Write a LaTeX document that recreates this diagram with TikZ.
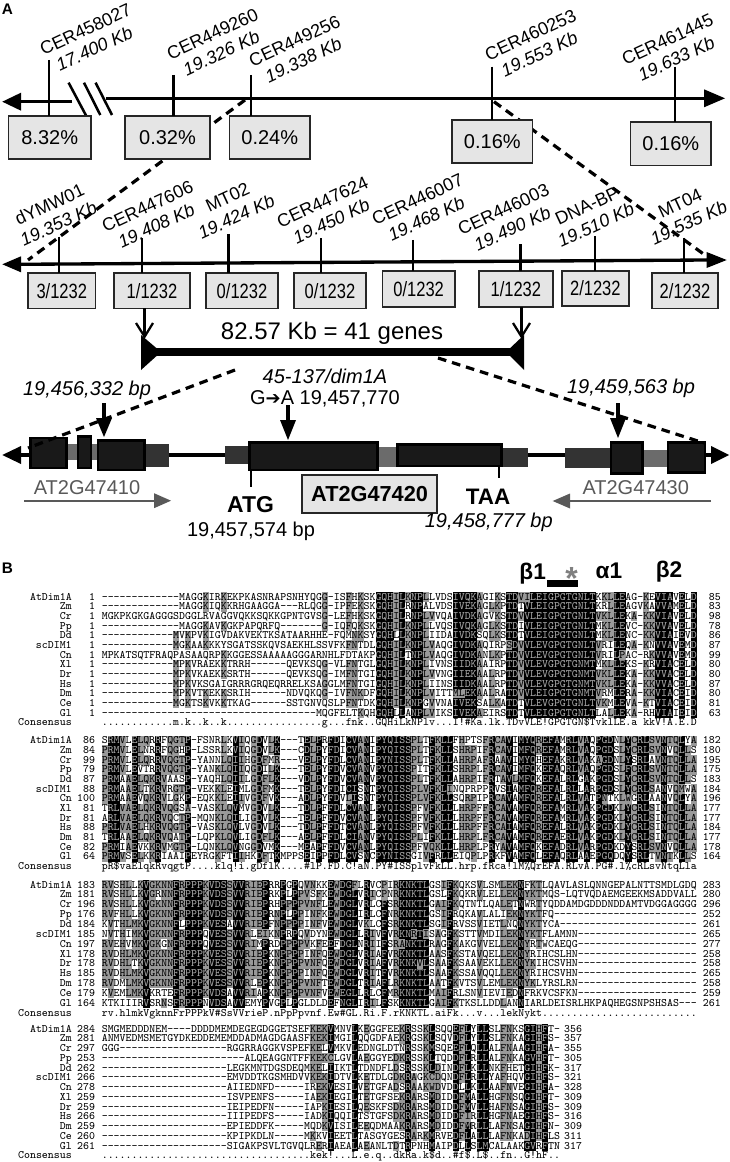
\documentclass[tikz,border=0pt]{standalone}
\usepackage{fontspec}
\usepackage{graphicx}
\setmainfont{Liberation Sans}
\newfontfamily\djv{DejaVu Sans}
\definecolor{boxfill}{gray}{0.9}
\definecolor{boxedge}{gray}{0.15}
\definecolor{utrdark}{gray}{0.2}
\definecolor{utrmid}{gray}{0.42}
\definecolor{genefill}{gray}{0.1}
\definecolor{genelab}{gray}{0.35}
\definecolor{alngray}{gray}{0.6}
\definecolor{alnwhite}{gray}{0.66}
\tikzset{
  pctbox/.style={draw=boxedge,fill=boxfill,line width=1.2pt,inner sep=0pt,outer sep=0pt},
  rotlab/.style={rotate=25,align=center,inner sep=0pt,font=\fontsize{13.5}{15.8}\selectfont},
  tickline/.style={line width=1.9pt,black},
  mainline/.style={line width=2.5pt,black},
  dashline/.style={line width=2.4pt,black,dash pattern=on 6.5pt off 4.5pt},
  vline/.style={line width=1.7pt,black},
  genebox/.style={draw=black,fill=genefill,line width=2.1pt},
  txt/.style={inner sep=0pt,outer sep=0pt},
  alnfont/.style={inner sep=0pt,outer sep=0pt,font=\fontsize{8.5}{10}\selectfont\ttfamily}
}
\newcommand\fsz[1]{\fontsize{#1}{#1}\selectfont}
\newcommand\boxat[6]{\node[pctbox,minimum width={(#4-#2)*0.75pt},minimum height={(#5-#3)*0.75pt}] (#1) at ({(#2+#4)/2},{(#3+#5)/2}) {#6};}
\newcommand\cnt[1]{\fsz{15.5}\scalebox{.8}[1]{#1}}
% ---- alignment machinery
\newcount\alnrowi \newcount\alncol \newcount\alnmode \newcount\alnblk
\newtoks\alnbuf
\def\alnpass{0}
\def\alnstop{}
\def\alnadd#1{\alnbuf=\expandafter{\the\alnbuf #1}}
\def\alnis#1#2{\if#1#2\alnmode=2 \fi}
\def\alncase#1#2{\uppercase{\def\alnup{#2}}%
  \if\alnup#2\alnmode=1 \if#1#2\alnmode=2 \fi
  \else\if#1\alnup\alnmode=1 \fi\fi}
\def\alnclassify#1#2{\alnmode=0 %
  \if#1-\else\if#2.\else\if#2_\else
    \if#2!\alnmode=1 \alnis#1I\alnis#1V\else
    \if#2@\alnis#1N\alnis#1D\alnis#1Q\alnis#1E\else
    \if#2+\alnmode=1 \alnis#1L\alnis#1M\else
    \if#2*\alnmode=1 \alnis#1F\alnis#1Y\else
      \alncase{#1}{#2}%
    \fi\fi\fi\fi
  \fi\fi\fi}
\def\alncell#1#2{\alnclassify{#1}{#2}%
  \ifnum\alnpass=0
    \ifnum\alnmode>0
      \ifnum\alnmode=2 \def\alnc{black}\else\def\alnc{alngray}\fi
      \pgfmathsetmacro\alnxa{\alnxo+5.95*\the\alncol}%
      \pgfmathsetmacro\alnxb{\alnxa+6.1}%
      \fill[\alnc] (\alnxa,\alnya) rectangle (\alnxb,\alnyb);%
    \fi
  \else
    \ifnum\alnmode=2 \alnadd{\textcolor{alnwhite}{#1}\kern0pt }\else\alnadd{#1\kern0pt }\fi
  \fi}
\def\alnwalk#1#2\alnstop#3#4\alnstop{\alncell{#1}{#3}\advance\alncol by 1
  \ifx\relax#2\relax\else\alnwalk#2\alnstop#4\alnstop\fi}
\def\alnrow#1#2#3#4#5{%
  \pgfmathsetmacro\alny{\alnyo+\alnp*\the\alnrowi}%
  \pgfmathsetmacro\alnya{\alny-4.95}%
  \pgfmathsetmacro\alnyb{\alny+4.95}%
  \pgfmathsetmacro\alnb{\alny+3.1}%
  \alncol=0 \alnbuf={}%
  \edef\alntmp{\noexpand\alnwalk#3#4\noexpand\alnstop\alnconsL\alnconsR_____\noexpand\alnstop}\alntmp
  \ifnum\alnpass=1
    \node[alnfont,anchor=base east] (n\the\alnblk-\the\alnrowi) at (71.7,\alnb) {#1};
    \node[alnfont,anchor=base east] (a\the\alnblk-\the\alnrowi) at (95,\alnb) {#2};
    \node[alnfont,anchor=base west] (s\the\alnblk-\the\alnrowi) at (\alnxo,\alnb) {\the\alnbuf};
    \node[alnfont,anchor=base east] (e\the\alnblk-\the\alnrowi) at (\alnxe,\alnb) {#5};
  \fi
  \advance\alnrowi by 1 }
\def\alnconsadd#1{%
  \if#1@\alnadd{\#}\else\if#1+\alnadd{\$}\else\if#1*\alnadd{\%}\else
  \if#1_\alnadd{\kern4.4625pt }\else\alnadd{#1\kern0pt }\fi\fi\fi\fi}
\def\alnconswalk#1#2\alnstop{\alnconsadd{#1}\ifx\relax#2\relax\else\alnconswalk#2\alnstop\fi}
\def\alnconsrow{%
  \ifnum\alnpass=1
    \pgfmathsetmacro\alny{\alnyo+\alnp*\the\alnrowi}%
    \pgfmathsetmacro\alnb{\alny+3.1}%
    \alnbuf={}%
    \edef\alntmp{\noexpand\alnconswalk\alnconsL\alnconsR\noexpand\alnstop}\alntmp
    \node[alnfont,anchor=base east] (n\the\alnblk-c) at (71.7,\alnb) {Consensus};
    \node[alnfont,anchor=base west] (s\the\alnblk-c) at (\alnxo,\alnb) {\the\alnbuf};
  \fi}
\def\alnblock#1#2#3#4#5#6#7{% id, y0, pitch, x end, cons L, cons R, rows
  \alnblk=#1 \def\alnyo{#2}\def\alnp{#3}\def\alnxe{#4}\def\alnconsL{#5}\def\alnconsR{#6}%
  \def\alnpass{0}\alnrowi=0 #7%
  \def\alnpass{1}\alnrowi=0 #7\alnconsrow}
\def\alnxo{101.8}
\begin{document}
\begin{tikzpicture}[x=0.75pt,y=-0.75pt]
\useasboundingbox[fill=white] (0,0) rectangle (729,1162);
% ===== panel letters
\node[txt,anchor=base west,font=\bfseries\fsz{11.5}] (letA) at (2,15) {A};
\node[txt,anchor=base west,font=\bfseries\fsz{11.5}] (letB) at (2,573) {B};
% ===== top chromosome line
\draw[mainline] (106,98.3) -- (705,98.3);
\fill (725,98.3) -- (704,89.3) -- (704,107.3) -- cycle;
\draw[mainline] (72,101.7) -- (20,101.7);
\fill (2.3,101.7) -- (21,92.7) -- (21,110.7) -- cycle;
\draw[line width=1.9pt] (68.6,82.7) -- (86.3,116);
\draw[line width=1.9pt] (84,82.7) -- (100.3,115);
\draw[line width=1.9pt] (95.6,82.7) -- (112,115);
% dashed zoom lines
\coordinate (dA1) at (245,100); \coordinate (dA2) at (28,260);
\coordinate (dB1) at (494,101.7); \coordinate (dB2) at (709,258);
\draw[dashline] (dA1) -- (dA2);
\draw[dashline] (dB1) -- (dB2);
% ticks and boxes of the top line
\boxat{bxA}{8.4}{116}{91}{159}{\fsz{15}8.32\%}
\boxat{bxB}{125}{116}{210}{159}{\fsz{15}0.32\%}
\boxat{bxC}{229.5}{116}{310}{159}{\fsz{15}0.24\%}
\boxat{bxD}{452}{120}{532.6}{163}{\fsz{15}0.16\%}
\boxat{bxE}{630.6}{122}{711}{165.7}{\fsz{15}0.16\%}
\coordinate (tA) at (49,60); \coordinate (tB) at (173.5,75); \coordinate (tC) at (251,75);
\coordinate (tD) at (492,66.7); \coordinate (tE) at (675,66.7);
\draw[tickline] (tA) -- (tA |- bxA.north);
\draw[tickline] (tB) -- (tB |- bxB.north);
\draw[tickline] (tC) -- (tC |- bxC.north);
\draw[tickline] (tD) -- (tD |- bxD.north);
\draw[tickline] (tE) -- (tE |- bxE.north);
\node[rotlab] (lA) at (90,39) {CER458027\\\textit{17.400 Kb}};
\node[rotlab] (lB) at (217,43.5) {CER449260\\\textit{19.326 Kb}};
\node[rotlab] (lC) at (299,50.5) {CER449256\\\textit{19.338 Kb}};
\node[rotlab] (lD) at (535,44.5) {CER460253\\\textit{19.553 Kb}};
\node[rotlab] (lE) at (672,49) {CER461445\\\textit{19.633 Kb}};
% ===== second line
\draw[mainline] (20,264.3) -- (707,260);
\fill (2.3,264.3) -- (21,256.3) -- (21,272.3) -- cycle;
\fill (726.7,260) -- (706.6,252) -- (706.6,268) -- cycle;
\boxat{bxF}{28}{273.3}{95.6}{308.3}{\cnt{3/1232}}
\boxat{bxG}{114}{273.3}{190}{308.3}{\cnt{1/1232}}
\boxat{bxH}{206}{273.3}{278}{308.3}{\cnt{0/1232}}
\boxat{bxI}{294}{273.3}{366}{308.3}{\cnt{0/1232}}
\boxat{bxJ}{382.5}{271}{454.8}{306.7}{\cnt{0/1232}}
\boxat{bxK}{479}{271}{552.7}{306.7}{\cnt{1/1232}}
\boxat{bxL}{562}{271}{628.7}{306}{\cnt{2/1232}}
\boxat{bxM}{652}{273.3}{718}{308.3}{\cnt{2/1232}}
\coordinate (tF) at (59,236.7); \coordinate (tG) at (142,238.3); \coordinate (tH) at (228.5,234);
\coordinate (tI) at (321,238.3); \coordinate (tJ) at (413,240); \coordinate (tK) at (520.5,244.3);
\coordinate (tL) at (595,236); \coordinate (tM) at (684,237.7);
\draw[tickline] (tF) -- (tF |- bxF.north);
\draw[tickline] (tG) -- (tG |- bxG.north);
\draw[tickline] (tH) -- (tH |- bxH.north);
\draw[tickline] (tI) -- (tI |- bxI.north);
\draw[tickline] (tJ) -- (tJ |- bxJ.north);
\draw[tickline] (tK) -- (tK |- bxK.north);
\draw[tickline] (tL) -- (tL |- bxL.north);
\draw[tickline] (tM) -- (tM |- bxM.north);
\node[rotlab] (lF) at (54,214) {dYMW01\\\textit{19.353 Kb}};
\node[rotlab] (lG) at (152,216) {CER447606\\\textit{19.408 Kb}};
\node[rotlab] (lH) at (232,207) {MT02\\\textit{19.424 Kb}};
\node[rotlab] (lI) at (327,211.7) {CER447624\\\textit{19.450 Kb}};
\node[rotlab] (lJ) at (422,209) {CER446007\\\textit{19.468 Kb}};
\node[rotlab] (lK) at (508,219) {CER446003\\\textit{19.490 Kb}};
\node[rotlab] (lL) at (591.6,215.4) {DNA-BP\\\textit{19.510 Kb}};
\node[rotlab] (lM) at (684.5,213) {MT04\\\textit{19.535 Kb}};
% ===== 82.57 Kb bar
\coordinate (vL) at (144.6,336.7); \coordinate (vR) at (521.5,336.7);
\draw[vline] (vL |- bxG.south) -- (vL);
\draw[vline] (136,323) -- (vL) -- (153,323);
\draw[vline] (vR |- bxK.south) -- (vR);
\draw[vline] (513,323) -- (vR) -- (530,323);
\node[txt,font=\fsz{18}] (barlab) at (332,333.3) {82.57 Kb = 41 genes};
\draw[line width=6pt] (141,351.7) -- (524,351.7);
\fill (141,335) -- (141,370) -- (161,352) -- cycle;
\fill (524,335) -- (524,370) -- (506,352) -- cycle;
% ===== gene model
\draw[mainline] (15,455) -- (715,455);
\fill (2.3,455) -- (21,446) -- (21,464) -- cycle;
\fill (729,455) -- (711,446) -- (711,464) -- cycle;
\fill[utrmid] (65,444) rectangle (100,460);
\fill[utrdark] (144.6,444) rectangle (169.3,466.7);
\fill[utrdark] (224.8,446) rectangle (251.9,464.3);
\fill[utrmid] (377.8,446.7) rectangle (397,466.7);
\fill[utrdark] (501.4,448.3) rectangle (528,466.7);
\fill[utrdark] (565.3,448.3) rectangle (611,468.3);
\fill[utrmid] (642.7,450) rectangle (668,466.7);
\draw[genebox] (30.3,438) rectangle (66.7,468);
\draw[genebox] (78,436.7) rectangle (91,468);
\draw[genebox] (98,440.7) rectangle (144.6,470);
\draw[genebox] (249.5,442.3) rectangle (377.8,470);
\draw[genebox] (397.4,444.3) rectangle (501.4,466);
\draw[genebox] (611,442.3) rectangle (642.7,473.3);
\draw[genebox] (668,442.3) rectangle (705,472.7);
\draw[line width=1.9pt] (251,470) -- (251,486.7);
\draw[line width=1.9pt] (499,466) -- (499,478.3);
\coordinate (dC1) at (235,370); \coordinate (dC2) at (28,448);
\coordinate (dD1) at (438,358); \coordinate (dD2) at (704,443);
\draw[dashline] (dC1) -- (dC2);
\draw[dashline] (dD1) -- (dD2);
% arrows onto the gene
\draw[line width=2.4pt] (104,403) -- (104,425);
\fill (104,437) -- (96,418) -- (112,418) -- cycle;
\draw[line width=2.4pt] (288,405) -- (288,427);
\fill (288,440) -- (280,420) -- (296,420) -- cycle;
\draw[line width=2.4pt] (618,403) -- (618,425);
\fill (618,438) -- (610,418) -- (626,418) -- cycle;
\node[txt,font=\itshape\fsz{15}] (t1) at (87,390) {19,456,332 bp};
\node[txt,font=\itshape\fsz{15}] (t2) at (325,376) {45-137/dim1A};
\node[txt,font=\fsz{15}] (t3) at (325,399) {G{\djv\fsz{13.5}➔}A 19,457,770};
\node[txt,font=\itshape\fsz{15}] (t4) at (631,388.3) {19,459,563 bp};
\node[txt,font=\fsz{15},text=genelab] (g1) at (87,487.3) {AT2G47410};
\node[txt,font=\fsz{15},text=genelab] (g3) at (635.7,487.3) {AT2G47430};
\draw[line width=1.8pt,genelab] (24,500.7) -- (156,500.7);
\fill[genelab] (171,500.7) -- (154,493.2) -- (154,508.2) -- cycle;
\draw[line width=1.8pt,genelab] (711,501) -- (568,501);
\fill[genelab] (552.7,501) -- (570,493.5) -- (570,508.5) -- cycle;
\node[txt,font=\bfseries\fsz{17.2}] (atg) at (250.5,505) {ATG};
\node[txt,font=\fsz{15}] (atgp) at (251,531.7) {19,457,574 bp};
\node[pctbox,line width=1.5pt,minimum width={135.7*0.75pt},minimum height={37.7*0.75pt},font=\bfseries\fsz{16.3}] (gene) at (369.6,493.8) {AT2G47420};
\node[txt,font=\bfseries\fsz{16.8}] (taa) at (488,496.7) {TAA};
\node[txt,font=\itshape\fsz{15}] (taap) at (488.8,522.7) {19,458,777 bp};
% ===== secondary structure header
\node[txt,font=\bfseries\fsz{17}] (b1) at (532.7,574) {β1};
\fill (546.7,580) rectangle (577.7,586.7);
\node[txt,font=\bfseries\fsz{24},text=gray] (star) at (571.7,578) {*};
\node[txt,font=\bfseries\fsz{17}] (a1) at (609,571) {α1};
\node[txt,font=\bfseries\fsz{17}] (b2) at (669,572) {β2};
% ===== alignment
\alnblock{1}{597}{9.67}{720.7}{............m.k..k..k................g...fnk}{..GQHiLkNPlv...I!@Ka.lk.TDvVLE!GPGTGN+TvklLE.a_kkV!A.E.D}{%
\alnrow{AtDim1A}{1}{-------------MAGGKIRKEKPKASNRAPSNHYQGG-ISFHK}{SKGQHILKNPLLVDSIVQKAGIKSTDVILEIGPGTGNLTKKLLEAG-KEVIAVELD}{85}%
\alnrow{Zm}{1}{-------------MAGGKIQKKRHGAAGGA---RLQGG-IPFEK}{SKGQHILRNPALVDSIVEKAGLKPTDTVLEIGPGTGNLTKRLLEAGVKAVVAMELD}{83}%
\alnrow{Cr}{1}{MGKPKGKGAGGGSDGGLRVAGGVQKKSQKKGPNTGVSG-LEFHK}{SKGQHILRNPLVVQAIVDKAGVKSTDVVLEIGPGTGNLTVKLLEKA-KKVIAVELD}{98}%
\alnrow{Pp}{1}{-------------MAGGKAVKGKPAPQRFQ-------G-IQFQK}{SKGQHILKNPLLVQSIVQKAGLKSTDIVLEIGPGTGNLTMKLLEVC-KKVVAVELD}{78}%
\alnrow{Dd}{1}{------------MVKPVKIGVDAKVEKTKSATAARHHE-FQMNK}{SYGQHLLKNPLIIDAIVDKSQLKSTDTVLEIGPGTGNLTMKLLENC-KKVIAIEVD}{86}%
\alnrow{scDIM1}{1}{------------MGKAAKKKYSGATSSKQVSAEKHLSSVFKFNT}{DLGQHILKNPLVAQGIVDKAQIRPSDVVLEVGPGTGNLTVRILEQA-KNVVAVEMD}{87}%
\alnrow{Cn}{1}{MPKATSQTFRAQPASAAQRPKKGGESSAAAAAGGGARNHLFDTA}{KPGQHILTNPLVAQGIVDKANLKPTDVVLEVGPGTGNLTVRILPAC-RKVVAVEMD}{99}%
\alnrow{Xl}{1}{------------MPKVRAEKKTRRH------QEVKSQG-VLFNT}{GLGQHILKNPLIVNSIIDKAAIRPTDVVLEVGPGTGNMTMKLLEKS-KRVIACELD}{80}%
\alnrow{Dr}{1}{------------MPKVKAEKKSRTH------QEVKSQG-IMFNT}{GIGQHILKNPLVVNGIIEKAALRPTDVVLEVGPGTGNMTVKLLEKA-KKVVACELD}{80}%
\alnrow{Hs}{1}{------------MPKVKSGAIGRRRGRQEQRRELKSAGGLMFNT}{GIGQHILKNPLIINSIIDKAALRPTDVVLEVGPGTGNMTVKLLEKA-KKVVACELD}{87}%
\alnrow{Dm}{1}{------------MPKVTKEKKSRIH------NDVQKQG-IVFNK}{DFGQHILKNPLVITTMLEKAALRATDVVLEIGPGTGNMTVRMLERA-KKVIACEID}{80}%
\alnrow{Ce}{1}{------------MGKTSKVKKTKAG------SSTGNVQSLPFNT}{DKGQHILKNPGVVNAIVEKSALKATDTVLEVGPGTGNLTVKMLEVA-KTVIACEID}{81}%
\alnrow{Gl}{1}{------------------------------------MQGFELTK}{QHGQHLLANPLVIKSIVEKAEIRSTDTVLEIGPGTGNLTLALLEKA-RHVIAIEID}{63}%
}
\alnblock{2}{740.7}{9.68}{720.7}{pR+vaElqkRvqgtP....klq!i.gDflK....@lP.FD.C!a}{N.PY@ISSplvFkLL.hrp.fRca!lM*QrEFA.RLvA.PG@.l*cRLsvNtqLla}{%
\alnrow{AtDim1A}{86}{SRMVLELQRRFQGTP-FSNRLKVIQGDVLK---TELPRFDICVA}{NIPYQISSPLTFKLLFHPTSFRCAVIMYQREFAMRLVAQPGDNLYCRLSVNTQLYA}{182}%
\alnrow{Zm}{84}{PRMVLELNRRFQGHP-LSSRLKVIQGDVLK---CDLPYFDICVA}{NIPYQISSPLTFKLLSHRPIFRCAVIMFQREFAMRLVAQPGDSLYCRLSVNVQLLS}{180}%
\alnrow{Cr}{99}{PRMVLELQRRVQGTP-YANNLQIIHGDFMR---VELPYFDLCVA}{NIPYNISSPLTFKLLAHRPAFRAAVIMYQHEFAKRLVAKAGDNLYSRLAVNTQLLA}{195}%
\alnrow{Pp}{79}{PRMVLEVTRRVQGTP-YANKLQIIQGDILK---TELPYFDVCVA}{NVPYQISSPITFKLLSHRPLFRCAVIMFQKEFAQRLVAQPGDSLFCRLSVNTQLLA}{175}%
\alnrow{Dd}{87}{PRMAAELQKRVAASP-YAQHLQIILGDFLK---VDLPYFDVCVA}{NVPYQISSPLTFKLLAHRPIFRTAVLMFQKEFALRLGAKPGDSLYCRLSVNTQLLS}{183}%
\alnrow{scDIM1}{88}{PRMAAELTKRVRGTP-VEKKLEIMLGDFMK---TELPYFDICIS}{NTPYQISSPLVFKLINQPRPPRVSIAMFQREFALRLLARPGDSLYCRLSANVQMWA}{184}%
\alnrow{Cn}{100}{PRMAAEVQKRVLGKP-EQKKLEIIVGDFVK---ADLPYFDVLIS}{NTPYQISSPLVFKLLSQRPIPRCAVAMFQREFALRLVATPNTKLWGRLAANVQLYA}{196}%
\alnrow{Xl}{81}{TRLVAELQKRVQGSA-VASKLQVMVGDVLK---TDLPFFDLCVA}{NLPYQISSPFVFKLLLHRPFFRCAVAMFQREFAMRLVAKPGDKLYCRLSINTQLLA}{177}%
\alnrow{Dr}{81}{ARLVAELQKRVQCTP-MQNKLQILIGDVLK---TELPFFDVCVA}{NLPYQISSPFVFKLLLHRPFFRCAVAMFQREFAMRLVAKPGDKLYCRLSINTQLLA}{177}%
\alnrow{Hs}{88}{PRLVAELHKRVQGTP-VASKLQVLVGDVLK---TDLPFFDTCVA}{NLPYQISSPFVFKLLLHRPFFRCAIAMFQREFALRLVAKPGDKLYCRLSINTQLLA}{184}%
\alnrow{Dm}{81}{TRLAAELQKRVQATP-LQPKLQVLIGDFLK---AELPFFDLCIA}{NVPYQISSPLIFKLLLHRPLFRCAVAMFQREFAERLVAKPGDKLYCRLSINTQLLA}{177}%
\alnrow{Ce}{82}{PRMIAEVKKRVMGTP-LQNKLQVNGGDVMK---MEAPFFDVCVA}{NLPYQISSPFVQKLLLHRPLPRYAVAMFQKEFADRLVARPGDKDYSRLSVNVQLLA}{178}%
\alnrow{Gl}{64}{PRMVSELKKRIAAIPEYRGKFTIIHKDFTKMPPSEIPPFDLCVS}{NCPYNISSGIVFRLLEIQPLPRKFVAMFQLEFAQRLAAEPGQDQYSRLTVNTKLLS}{164}%
}
\alnblock{3}{885}{9.85}{720.7}{rv.hlmkVgknnFrPPPkV@SsVVrieP.nPpPpvnf.Ew@GL.}{Ri.F.rKNKTL.aiFk...v...lekNykt..........................}{%
\alnrow{AtDim1A}{183}{RVSHLLKVGKNNFRPPPKVDSSVVRIEPRRPGPQVNKKEWDGFL}{RVCPIRKNKTLGSIFKQKSVLSMLEKNFKTLQAVLASLQNNGEPALNTTSMDLGDQ}{283}%
\alnrow{Zm}{181}{RVSHLLKVGRNNFRPPPKVDSSVVRIEPRKPLPPVSFKEWDGLV}{RICPNRKNKTLGSLFKQKRVLELLEKNYKTMQS-LQTVQDAEMGEEKMSADDVALL}{280}%
\alnrow{Cr}{196}{RVSHLLKVGKNNFRPPPKVDSSVVRIEPRHPPPPVNFLEWDGLV}{RLCFSRKNKTLGAIFKQTNTLQALETNWRTYQDDAMDGDDDNDDAMTVDGGAGGGG}{296}%
\alnrow{Pp}{176}{RVFHLLKVGKNNFRPPPKVDSSVVRIEPRNPLPPINFKEWDGLI}{RLCFNRKNKTLGSIFRQKAVLALIEKNYKTFQ------------------------}{252}%
\alnrow{Dd}{184}{KVTHLMKVGKNNFLPPPKVESAVVRIEPFNPPPPINFVEWDGLV}{KLCFSRKNKTLSGIFRVSSVIETLNQNYKTYCA-----------------------}{261}%
\alnrow{scDIM1}{185}{NVTHIMKVGKNNFRPPPQVESSVVRLEIKNPRPQVDYNEWDGLL}{RIVFVRKNRTISAGFKSTTVMDILEKNYKTFLAMNN--------------------}{265}%
\alnrow{Cn}{197}{RVEHVMKVGKGNFRPPPQVESSVVRIMPRDPPPPVKFEEFDGLN}{RIIFSRANKTLRAGFKAKGVVELLEKNYRTWCAEQG--------------------}{277}%
\alnrow{Xl}{178}{RVDHLMKVGKNNFRPPPKVESSVVRIEPKNPPPPINFQEWDGLV}{RIAFVRKNKTLAASFKSTAVQELLEKNYRIHCSLHN--------------------}{258}%
\alnrow{Dr}{178}{RVDHLTKVGKNNFRPPPKVESSVVRIEPKNPPPPVNFQEWDGLV}{RIAFVRKNKVLSAAFKSAAVEKLLEKNYKIHCSVHN--------------------}{258}%
\alnrow{Hs}{185}{RVDHLMKVGKNNFRPPPKVESSVVRIEPKNPPPPINFQEWDGLV}{RITFVRKNKTLSAAFKSSAVQQLLEKNYRIHCSVHN--------------------}{265}%
\alnrow{Dm}{178}{RVDMLMKVGKNNFRPPPKVESSVVRLEPKNPPPPVNFTEWDGLT}{RIAFLRKNKTLAATFKVTSVLEMLEKNYKLYRSLRN--------------------}{258}%
\alnrow{Ce}{179}{KVEMLMKVKRTEFRPPPKVDSAVVRIAPKNPPPPVNFVEWEGLL}{RLCFMRKNKTLMAIFRLSNVIEVIEDNFRKVCSFKN--------------------}{259}%
\alnrow{Gl}{164}{KTKIIIRVSRNSFRPPPNVDSAVVEMYPVGPLPGLDLDEFNGLI}{RILFSKKNKTLGAIFKTKSLLDDLANNIARLDEISRLHKPAQHEGSNPSHSAS---}{261}%
}
\alnblock{4}{1029}{9.75}{582}{...................................kek!...L.}{e.q..dkRa.k+d..@f+.L+..fn..G!hF..}{%
\alnrow{AtDim1A}{284}{SMGMEDDDNEM----DDDDMEMDEGEGDGGETSEFKEKVMNVLK}{EGGFEEKRSSKLSQQEFLYLLSLFNKSGIHFT-}{356}%
\alnrow{Zm}{281}{ANMVEDMSMETGYDKEDDEMEMDDADMAGDGAASFKEKIMGILQ}{QGDFAEKRGSKLSQVDFLYLLSLFNKAGIHFS-}{357}%
\alnrow{Cr}{297}{GGG------------------RGGRRAGGKVSPEFKELVMKVLE}{DNGLDTNRSSKMSQEEFLQLLALFNAAGIHFA-}{355}%
\alnrow{Pp}{253}{------------------------ALQEAGGNTFFKEKCLGVLA}{EGGYEDKRSSKLTQDDFLRLLALFNKAGVHFT-}{305}%
\alnrow{Dd}{262}{---------------------LEGKMNTDGSDEQMKELIIKTLT}{DNDFLDSRSSKLDINDFLKLLNKFHETGIHFK-}{317}%
\alnrow{scDIM1}{266}{---------------------EMVDDTKGSMHDVVKEKIDTVLK}{ETDLGDKRAGKCDQNDFLRLLYAFHQVGIHFS-}{321}%
\alnrow{Cn}{278}{---------------------AIIEDNFD-----IREKVESILV}{ETGFADSRAAKWDVDDLLKLLAAFNVEGIHFA-}{328}%
\alnrow{Xl}{259}{---------------------ISVPENFS-----IAEKIEGILT}{ETGFSEKRARSMDIDDFMALLHGFNSQGIHFT-}{309}%
\alnrow{Dr}{259}{---------------------IEIPEDFN-----IAPKIESILQ}{ESKFSDKRARSMDIDDFMVLLHAFNSAGIHFS-}{309}%
\alnrow{Hs}{266}{---------------------IIIPEDFS-----IADKIQQILT}{STGFSDKRARSMDIDDFIRLLHGFNAEGIHFS-}{316}%
\alnrow{Dm}{259}{---------------------EPIEDDFK-----MQDKVISILE}{EQDMAAKRARSMDIDDFMRLLLAFNSAGIHFN-}{309}%
\alnrow{Ce}{260}{---------------------KPIPKDLN-----MKKVIEETLT}{ASGYGESRARKMRVEDFLALLLAFNKADIHFLS}{311}%
\alnrow{Gl}{261}{---------------------SIGAKPSVLTGVQLRERIAEALA}{EANLTDTRPNHMAIPDLLSLMCALAAKGVRFTN}{317}%
}
\end{tikzpicture}
\end{document}
